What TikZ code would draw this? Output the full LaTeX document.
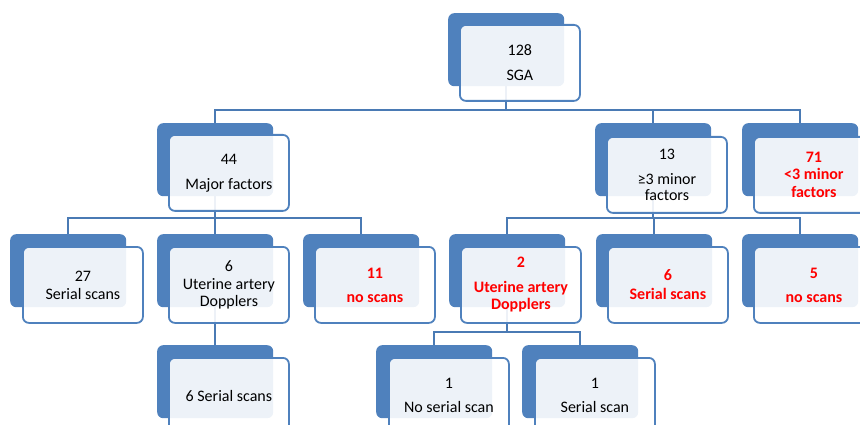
\documentclass[tikz,border=0pt]{standalone}
\usepackage{fontspec}
\setmainfont{Carlito}
\definecolor{boxblue}{HTML}{4F81BD}
\definecolor{connblue}{HTML}{4A7AB4}
\definecolor{alertred}{HTML}{FF0000}
\pgfdeclarelayer{bg}
\pgfsetlayers{bg,main}
\begin{document}
\begin{tikzpicture}[x=1pt,y=-1pt,
  backbox/.style={rectangle,rounded corners=6pt,fill=boxblue,draw=none,
    minimum width=116pt,minimum height=73pt,anchor=north west,inner sep=0pt},
  frontbox/.style={rectangle,rounded corners=6pt,draw=boxblue,line width=1.8pt,
    fill=white,fill opacity=0.9,text opacity=1,minimum width=120pt,minimum height=76pt,
    anchor=north west,inner sep=0pt,align=center,font=\fontsize{16}{18}\selectfont},
  redtxt/.style={text=alertred,font=\fontsize{16}{18}\selectfont\bfseries},
  conn/.style={draw=connblue,line width=2pt}]
\useasboundingbox (0,0) rectangle (860,425);
\clip (0,0) rectangle (860,425);
\coordinate (bar1) at (0,110);
\coordinate (bar2) at (0,218);
\coordinate (bar3) at (0,332);
% back boxes
\node[backbox] (sgaB) at (448,13) {};
\node[backbox] (majB) at (157,123) {};
\node[backbox] (mthB) at (595,123) {};
\node[backbox] (ltB) at (742,123) {};
\node[backbox] (sxB) at (10,234) {};
\node[backbox] (uaB) at (157,234) {};
\node[backbox] (nsaB) at (303,234) {};
\node[backbox] (ubB) at (449,234) {};
\node[backbox] (ssB) at (596,234) {};
\node[backbox] (nsbB) at (742,234) {};
\node[backbox] (sbB) at (157,345) {};
\node[backbox] (nssB) at (376,345) {};
\node[backbox] (soB) at (522,345) {};
% connectors (behind the boxes)
\begin{pgfonlayer}{bg}
\draw[conn] (sgaB.south) |- (majB.north |- bar1) -- (majB.north);
\draw[conn] (sgaB.south) |- (mthB.north |- bar1) -- (mthB.north);
\draw[conn] (sgaB.south) |- (ltB.north |- bar1) -- (ltB.north);
\draw[conn] (majB.south) |- (sxB.north |- bar2) -- (sxB.north);
\draw[conn] (majB.south) |- (uaB.north |- bar2) -- (uaB.north);
\draw[conn] (majB.south) |- (nsaB.north |- bar2) -- (nsaB.north);
\draw[conn] (mthB.south) |- (ubB.north |- bar2) -- (ubB.north);
\draw[conn] (mthB.south) |- (ssB.north |- bar2) -- (ssB.north);
\draw[conn] (mthB.south) |- (nsbB.north |- bar2) -- (nsbB.north);
\draw[conn] (uaB.south) -- (sbB.north);
\draw[conn] (ubB.south) |- (nssB.north |- bar3) -- (nssB.north);
\draw[conn] (ubB.south) |- (soB.north |- bar3) -- (soB.north);
\end{pgfonlayer}
% front boxes
\node[frontbox] (sgaF) at (459,24) {128\\[7pt]SGA};
\node[frontbox] (majF) at (168,134) {44\\[7pt]Major factors};
\node[frontbox] (mthF) at (606,136) {13\\[7pt]≥3 minor\\[-2pt]factors};
\node[frontbox,redtxt] (ltF) at (753,136) {71\\[-1pt]<3 minor\\factors};
\node[frontbox] (sxF) at (22,246) {27\\Serial scans};
\node[frontbox] (uaF) at (168,246) {6\\Uterine artery\\[-1pt]Dopplers};
\node[frontbox,redtxt] (nsaF) at (314,246) {11\\[6pt]no scans};
\node[frontbox,redtxt] (ubF) at (460,246) {2\\[7pt]Uterine artery\\[-1pt]Dopplers};
\node[frontbox,redtxt] (ssF) at (607,246) {6\\[1pt]Serial scans};
\node[frontbox,redtxt] (nsbF) at (753,246) {5\\[6pt]no scans};
\node[frontbox] (sbF) at (168,357) {6 Serial scans};
\node[frontbox] (nssF) at (388,357) {1\\[6pt]No serial scan};
\node[frontbox] (soF) at (534,357) {1\\[6pt]Serial scan};
\end{tikzpicture}
\end{document}
